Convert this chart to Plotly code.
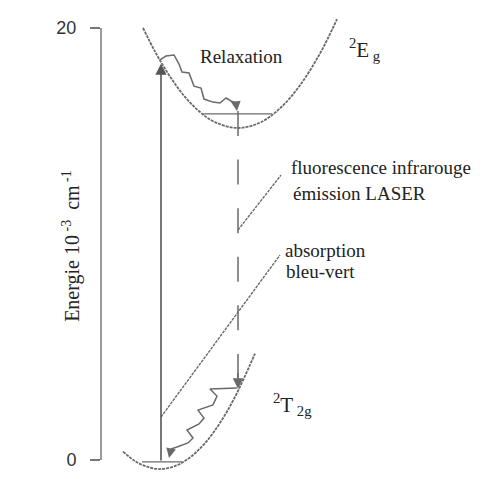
import plotly.graph_objects as go

# Configuration coordinate (arbitrary units) and energy (10^3 cm^-1) for each potential curve
q_t2g = [22, 34, 46, 59, 74, 89, 104, 119, 134, 154]
e_t2g = [0.39, -0.05, -0.31, -0.42, -0.28, 0.12, 0.78, 1.72, 2.92, 4.93]
q_eg = [42, 54, 69, 84, 99, 114, 137, 159, 179, 199, 219, 236]
e_eg = [20.01, 18.91, 17.75, 16.81, 16.11, 15.64, 15.37, 15.62, 16.28, 17.35, 18.82, 20.41]

# Lowest vibrational level of each state
q_level_t2g = [41, 81]
e_level_t2g = [-0.09, -0.09]
q_level_eg = [102, 171]
e_level_eg = [16.02, 16.02]

# Vertical transitions
q_absorption = 60
e_absorption = [-0.09, 18.35]
q_emission = 137
e_emission = [16.16, 3.30]

# Non-radiative relaxation paths (wavy arrows)
q_relax_eg = [59, 65, 73, 78, 81, 88, 93, 100, 103, 112, 119, 125, 130, 135]
e_relax_eg = [18.52, 18.70, 18.75, 18.33, 17.96, 17.92, 17.31, 17.22, 16.71, 16.57, 16.53, 16.76, 16.62, 16.53]
relax_eg_tip = (136, 16.16)
q_relax_t2g = [136, 109, 116, 112, 97, 103, 98, 86, 92, 87, 76, 70]
e_relax_t2g = [3.33, 3.29, 2.96, 2.55, 2.31, 1.94, 1.67, 1.39, 1.02, 0.79, 0.60, 0.51]
relax_t2g_tip = (68, 0.09)

# Leader lines for the transition labels
q_lead_abs = [60, 179]
e_lead_abs = [1.99, 9.49]
q_lead_em = [137, 180]
e_lead_em = [10.65, 13.19]

tick_vals = [0, 20]
tick_text = ["0", "20"]

GREY = "#6a6a6a"
DARK = "#555555"
SERIF = "Liberation Serif"

fig = go.Figure()

curve_line = dict(color=GREY, width=1.8, dash="3px,1px", shape="spline")
fig.add_trace(go.Scatter(x=q_t2g, y=e_t2g, mode="lines", line=curve_line, hoverinfo="skip"))
fig.add_trace(go.Scatter(x=q_eg, y=e_eg, mode="lines", line=curve_line, hoverinfo="skip"))

level_line = dict(color=GREY, width=1.3)
fig.add_trace(go.Scatter(x=q_level_t2g, y=e_level_t2g, mode="lines", line=level_line, hoverinfo="skip"))
fig.add_trace(go.Scatter(x=q_level_eg, y=e_level_eg, mode="lines", line=level_line, hoverinfo="skip"))

# Emission (dashed vertical line)
fig.add_trace(go.Scatter(x=[q_emission, q_emission], y=[e_emission[0], e_emission[1] + 0.5],
                         mode="lines", line=dict(color=GREY, width=1.5, dash="25px,23.6px"),
                         hoverinfo="skip"))

# Relaxation squiggles
wave_line = dict(color=GREY, width=1.5)
fig.add_trace(go.Scatter(x=q_relax_eg, y=e_relax_eg, mode="lines", line=wave_line, hoverinfo="skip"))
fig.add_trace(go.Scatter(x=q_relax_t2g, y=e_relax_t2g, mode="lines", line=wave_line, hoverinfo="skip"))

# Label leader lines
lead_line = dict(color=GREY, width=1.4, dash="3px,1px")
fig.add_trace(go.Scatter(x=q_lead_abs, y=e_lead_abs, mode="lines", line=lead_line, hoverinfo="skip"))
fig.add_trace(go.Scatter(x=q_lead_em, y=e_lead_em, mode="lines", line=lead_line, hoverinfo="skip"))

arrows = [
    # absorption arrow
    dict(x=q_absorption, y=e_absorption[1], ax=q_absorption, ay=e_absorption[0],
         arrowwidth=1.6, arrowsize=1.4, arrowcolor=DARK),
    # emission arrow head
    dict(x=q_emission, y=e_emission[1], ax=q_emission, ay=e_emission[1] + 0.8,
         arrowwidth=1.5, arrowsize=1.4, arrowcolor=GREY),
    # relaxation arrow heads
    dict(x=relax_eg_tip[0], y=relax_eg_tip[1], ax=q_relax_eg[-1], ay=e_relax_eg[-1],
         arrowwidth=1.5, arrowsize=1.3, arrowcolor=GREY),
    dict(x=relax_t2g_tip[0], y=relax_t2g_tip[1], ax=q_relax_t2g[-1], ay=e_relax_t2g[-1],
         arrowwidth=1.5, arrowsize=1.3, arrowcolor=GREY),
]
for a in arrows:
    fig.add_annotation(text="", showarrow=True, arrowhead=2, axref="x", ayref="y",
                       xref="x", yref="y", standoff=0, startstandoff=0, **a)

text_font = dict(family=SERIF, size=19, color="#222222")
labels = [
    ("Relaxation", 97, 18.68),
    ("fluorescence infrarouge", 188, 13.54),
    ("émission LASER", 190, 12.36),
    ("absorption", 182, 9.70),
    ("bleu-vert", 183, 8.73),
]
for txt, qx, ey in labels:
    fig.add_annotation(text=txt, x=qx, y=ey, xref="x", yref="y", showarrow=False,
                       xanchor="left", yanchor="middle", font=text_font)

state_font = dict(family=SERIF, size=21, color="#222222")
fig.add_annotation(text="<sup>2</sup>E<sub> g</sub>", x=246, y=19.0, xref="x", yref="y",
                   showarrow=False, xanchor="left", yanchor="middle", font=state_font)
fig.add_annotation(text="<sup>2</sup>T<sub> 2g</sub>", x=170, y=2.55, xref="x", yref="y",
                   showarrow=False, xanchor="left", yanchor="middle", font=state_font)

# Energy axis title, placed left of the axis line
fig.add_annotation(text="Energie 10<sup> -3</sup>  cm<sup> -1</sup>", x=-0.08, y=9.9,
                   xref="paper", yref="y", showarrow=False, textangle=-90,
                   xanchor="center", yanchor="middle",
                   font=dict(family=SERIF, size=20, color="#222222"))

# Energy axis line between the two ticks
fig.add_shape(type="line", xref="paper", yref="y", x0=0, x1=0, y0=tick_vals[0], y1=tick_vals[-1],
              line=dict(color="#777777", width=1.5))

fig.update_layout(
    width=488, height=479, autosize=False,
    margin=dict(l=101, r=8, t=5, b=4),
    paper_bgcolor="white", plot_bgcolor="white",
    showlegend=False,
    xaxis=dict(range=[0, 379], visible=False),
    yaxis=dict(range=[-0.694, 21.065], tickvals=tick_vals, ticktext=tick_text,
               ticks="outside", ticklen=10, tickwidth=1.5, tickcolor="#777777",
               showgrid=False, zeroline=False, showline=False,
               ticklabelstandoff=10,
               tickfont=dict(family="Liberation Sans", size=18, color="#333333")),
)

fig.write_html("out.html")
